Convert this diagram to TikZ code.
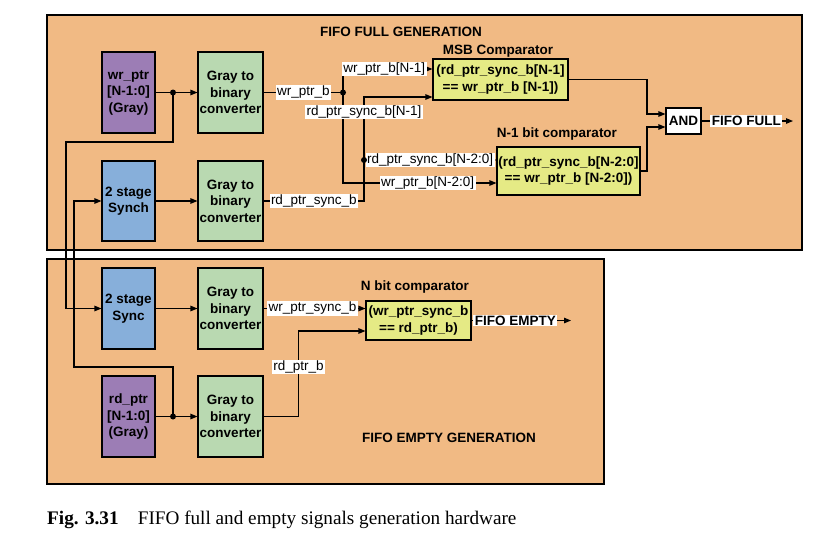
\documentclass[tikz,border=0pt]{standalone}
\usepackage{fontspec}
\setmainfont{Liberation Serif}
\setsansfont{Liberation Sans}
\usetikzlibrary{arrows.meta}
\definecolor{fifoBg}{HTML}{F1BA84}
\definecolor{ptrPurple}{HTML}{9C7DB5}
\definecolor{convGreen}{HTML}{B9D9B1}
\definecolor{syncBlue}{HTML}{87AFDA}
\definecolor{cmpYellow}{HTML}{E5EA85}

\begin{document}
\begin{tikzpicture}[x=1pt, y=-1pt, >={Triangle[length=7pt,width=5.5pt]},
  font=\sffamily\fontsize{13.5}{16.5}\selectfont,
  blk/.style={draw, line width=1.1pt, align=center, inner sep=0pt,
              font=\sffamily\bfseries\fontsize{13.5}{16.5}\selectfont},
  lbl/.style={fill=white, inner xsep=1.5pt, inner ysep=0.8pt},
  ttl/.style={font=\sffamily\bfseries\fontsize{13.5}{16.5}\selectfont},
  wire/.style={line width=1.1pt}]
  \useasboundingbox (0,0) rectangle (822,550);

  \fill[fifoBg] (47,15) rectangle (802,250);
  \draw[line width=1.2pt] (47,15) rectangle (802,250);
  \fill[fifoBg] (47,259) rectangle (604,484);
  \draw[line width=1.2pt] (47,259) rectangle (604,484);

  \node[ttl] at (401,32) {FIFO FULL GENERATION};
  \node[ttl] at (449,438) {FIFO EMPTY GENERATION};
  \node[ttl] at (498,51) {MSB Comparator};
  \node[ttl] at (557,134) {N-1 bit comparator};
  \node[ttl] at (415,287) {N bit comparator};

  \node[blk, fill=ptrPurple, minimum width=53pt, minimum height=81pt] (wrptr) at (128.5,92.5) {wr\_ptr\\{}[N-1:0]\\(Gray)};
  \node[blk, fill=convGreen, minimum width=65pt, minimum height=81pt] (gtb1) at (230.5,92.5) {Gray to\\binary\\converter};
  \node[blk, fill=syncBlue, minimum width=53pt, minimum height=80pt] (synchF) at (128.5,201) {2 stage\\Synch};
  \node[blk, fill=convGreen, minimum width=65pt, minimum height=80pt] (gtb2) at (230.5,201) {Gray to\\binary\\converter};
  \node[blk, fill=cmpYellow, minimum width=135pt, minimum height=41pt] (msb) at (500.5,79.5) {(rd\_ptr\_sync\_b[N-1]\\== wr\_ptr\_b [N-1])};
  \node[blk, fill=cmpYellow, minimum width=143pt, minimum height=48pt] (nm1) at (568.5,171) {(rd\_ptr\_sync\_b[N-2:0]\\== wr\_ptr\_b [N-2:0])};
  \node[blk, fill=white, minimum width=35pt, minimum height=26pt] (and) at (683.5,121) {AND};

  \node[blk, fill=syncBlue, minimum width=53pt, minimum height=81pt] (syncE) at (128.5,308.5) {2 stage\\Sync};
  \node[blk, fill=convGreen, minimum width=65pt, minimum height=81pt] (gtb3) at (230.5,308.5) {Gray to\\binary\\converter};
  \node[blk, fill=ptrPurple, minimum width=53pt, minimum height=81pt] (rdptr) at (128.5,416.5) {rd\_ptr\\{}[N-1:0]\\(Gray)};
  \node[blk, fill=convGreen, minimum width=65pt, minimum height=81pt] (gtb4) at (230.5,416.5) {Gray to\\binary\\converter};
  \node[blk, fill=cmpYellow, minimum width=105pt, minimum height=39pt] (nbit) at (418.5,320.5) {(wr\_ptr\_sync\_b\\== rd\_ptr\_b)};

  \coordinate (dw) at (173,92.5);
  \coordinate (dr) at (173,416.5);
  \coordinate (wrx) at (66,142);
  \coordinate (rdx) at (74,367);
  \coordinate (dwr) at (343,92.5);
  \coordinate (drs) at (364,160);
  \coordinate (bus) at (647,121);
  \coordinate (fullout) at (793,121);
  \coordinate (emptyout) at (571,320.5);

  \draw[wire, ->] (wrptr) -- (gtb1);
  \draw[wire, ->] (synchF) -- (gtb2);
  \draw[wire, ->] (syncE) -- (gtb3);
  \draw[wire, ->] (rdptr) -- (gtb4);
  \draw[wire, ->] (dw) |- (wrx) |- (syncE.west);
  \draw[wire, ->] (dr) |- (rdx) |- (synchF.west);
  \fill (dw) circle (3pt);
  \fill (dr) circle (3pt);

  \draw[wire] (gtb1.east) -- node[lbl] {wr\_ptr\_b} (dwr);
  \draw[wire, ->] (dwr) |- node[lbl, pos=0.73] {wr\_ptr\_b[N-1]} ([yshift=10.5pt]msb.west);
  \draw[wire, ->] (dwr) |- node[lbl, pos=0.776] {wr\_ptr\_b[N-2:0]} ([yshift=-12pt]nm1.west);
  \draw[wire] (gtb2.east) -| node[lbl, pos=0.25] {rd\_ptr\_sync\_b} (drs);
  \draw[wire, ->] (drs) |- node[lbl, pos=0.38] {rd\_ptr\_sync\_b[N-1]} ([yshift=-17.5pt]msb.west);
  \draw[wire, ->] (drs) -- node[lbl, pos=0.5] {rd\_ptr\_sync\_b[N-2:0]} ([yshift=11pt]nm1.west);
  \fill (dwr) circle (3pt);
  \fill (drs) circle (3pt);

  \draw[wire, ->] (msb.east) -| ([yshift=7pt]bus) -- ([yshift=7pt]and.west);
  \draw[wire, ->] (nm1.east) -| ([yshift=-6pt]bus) -- ([yshift=-6pt]and.west);
  \draw[wire, ->] (and.east) -- node[lbl, pos=0.49, font=\sffamily\bfseries\fontsize{13.5}{16.5}\selectfont] {FIFO FULL} (fullout);

  \draw[wire, ->] (gtb3.east) -- node[lbl, pos=0.48] {wr\_ptr\_sync\_b} (gtb3.east -| nbit.west);
  \draw[wire, ->] (gtb4.east) -- ++(35,0) |- node[lbl, pos=0.29] {rd\_ptr\_b} ([yshift=-10.5pt]nbit.west);
  \draw[wire, ->] (nbit.east) -- node[lbl, pos=0.44, font=\sffamily\bfseries\fontsize{13.5}{16.5}\selectfont] {FIFO EMPTY} (emptyout);

  \node[anchor=west, inner sep=0pt, font=\rmfamily\fontsize{19.2}{23}\selectfont] (caption) at (47,520) {\textbf{Fig. 3.31}\quad FIFO full and empty signals generation hardware};
\end{tikzpicture}
\end{document}
